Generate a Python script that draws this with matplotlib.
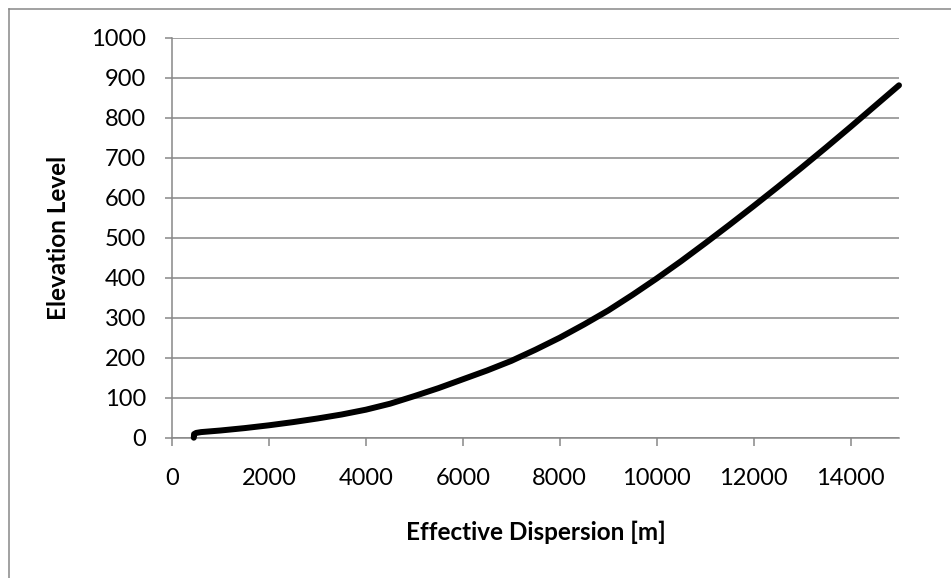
import matplotlib
matplotlib.use('Agg')
import matplotlib.pyplot as plt
from matplotlib.lines import Line2D

# values
dispersion = [450, 455, 500, 600, 1000, 1500, 2000, 2500, 3000, 3500, 4000, 4500,
              5000, 5500, 6000, 6500, 7000, 7500, 8000, 8500, 9000, 9500, 10000,
              10500, 11000, 11500, 12000, 12500, 13000, 13500, 14000, 14500, 15000]
elevation = [0, 9, 12, 14, 18, 24, 31, 39, 48, 58, 70, 85,
             104, 124, 146, 168, 192, 220, 250, 283, 318, 357, 398,
             441, 486, 532, 579, 627, 676, 726, 777, 829, 881]

x_ticks = [0, 2000, 4000, 6000, 8000, 10000, 12000, 14000]
y_ticks = [0, 100, 200, 300, 400, 500, 600, 700, 800, 900, 1000]

W, H = 951, 578
grey = '#878787'
plt.rcParams['font.family'] = ['Lato', 'DejaVu Sans']

fig = plt.figure(figsize=(W / 100, H / 100), dpi=100)
ax = fig.add_axes([172 / W, 1 - 437.7 / H, 727 / W, 400 / H])

ax.plot(dispersion, elevation, color='black', lw=4.3, solid_capstyle='round',
        solid_joinstyle='round', clip_on=False, zorder=3)

ax.set_xlim(0, 15000)
ax.set_ylim(0, 1000)
ax.set_xticks(x_ticks)
ax.set_yticks(y_ticks)
ax.set_xticklabels([str(v) for v in x_ticks])
ax.set_yticklabels([str(v) for v in y_ticks])
ax.yaxis.grid(True, color=grey, lw=1.1)
ax.set_axisbelow(True)

for s in ['top', 'right']:
    ax.spines[s].set_visible(False)
for s in ['left', 'bottom']:
    ax.spines[s].set_color(grey)
    ax.spines[s].set_linewidth(1.1)

ax.tick_params(axis='y', direction='out', length=5, width=1.1, color=grey,
               pad=13.5, labelsize=17, labelcolor='black')
ax.tick_params(axis='x', direction='out', length=5.5, width=1.1, color=grey,
               pad=16, labelsize=17, labelcolor='black')

fig.text(58.7 / W, 1 - 237.7 / H, 'Elevation Level', rotation=90, ha='center',
         va='center', fontsize=17.5, fontweight='bold')
fig.text(535.5 / W, 1 - 540 / H, 'Effective Dispersion [m]', ha='center',
         va='baseline', fontsize=17.5, fontweight='bold')

# outer chart frame (runs off the right and bottom edges)
fig.add_artist(Line2D([9 / W, 9 / W], [0, 1 - 9 / H], color=grey, lw=1.1,
                      transform=fig.transFigure))
fig.add_artist(Line2D([9 / W, 1], [1 - 9 / H, 1 - 9 / H], color=grey, lw=1.1,
                      transform=fig.transFigure))

fig.savefig('out.png', dpi=100)
